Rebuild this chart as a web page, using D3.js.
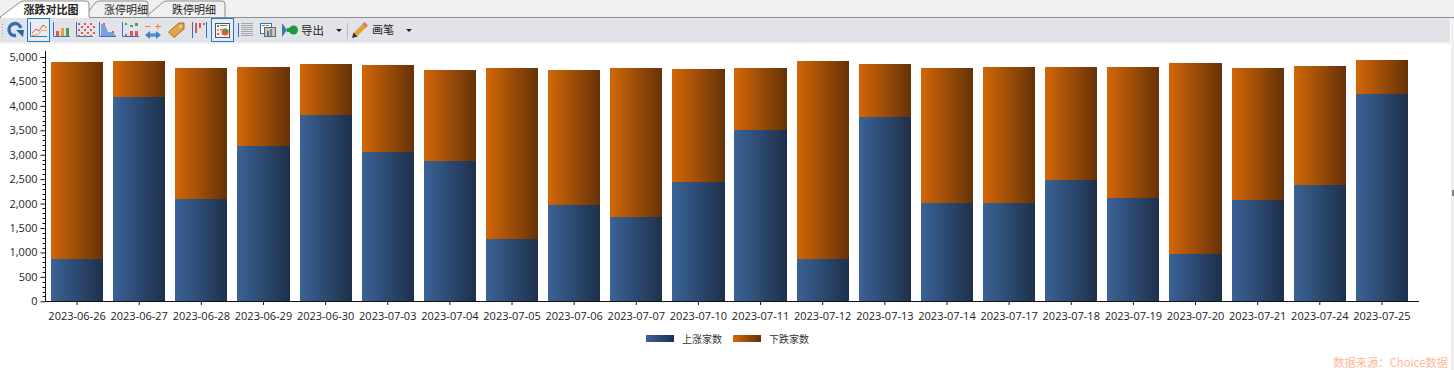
<!DOCTYPE html>
<html>
<head>
<meta charset="utf-8">
<script src="https://cdn.jsdelivr.net/npm/d3@7"></script>
<style>
html, body { margin: 0; padding: 0; background: #fff; overflow: hidden; }
svg { display: block; }
text { font-family: "Noto Sans CJK SC", "Noto Sans", sans-serif; }
.tick text { font-family: "Open Sans", "Noto Sans", sans-serif; }
</style>
</head>
<body>
<div id="chart"></div>
<script>

// === Data === //

var dates = ['2023-06-26','2023-06-27','2023-06-28','2023-06-29','2023-06-30','2023-07-03','2023-07-04','2023-07-05','2023-07-06','2023-07-07','2023-07-10','2023-07-11','2023-07-12','2023-07-13','2023-07-14','2023-07-17','2023-07-18','2023-07-19','2023-07-20','2023-07-21','2023-07-24','2023-07-25'];
var upCounts = [866,4180,2094,3180,3813,3057,2872,1275,1971,1726,2442,3506,866,3772,2012,2012,2483,2114,968,2073,2380,4243];
var totals = [4900,4920,4776,4796,4858,4837,4735,4776,4735,4776,4755,4776,4920,4858,4776,4796,4796,4796,4878,4776,4817,4939];
var downCounts = totals.map(function(d, i) { return d - upCounts[i]; });
var seriesNames = ['上涨家数', '下跌家数'];
var tabNames = ['涨跌对比图', '涨停明细', '跌停明细'];
var yTicks = d3.range(0, 5001, 500);


// === Set up canvas === //

var width = 1454, height = 370;
var svg = d3.select('#chart').append('svg').attr('width', width).attr('height', height);

function makeGradient(id, from, to) {
	var g = svg.append('defs').append('linearGradient').attr('id', id);
	g.append('stop').attr('offset', '0%').attr('stop-color', from);
	g.append('stop').attr('offset', '100%').attr('stop-color', to);
}
makeGradient('blue', '#3a6396', '#1e304b');
makeGradient('orange', '#d36707', '#653208');


// === Window chrome === //

svg.append('rect').attr('width', width).attr('height', height).attr('fill', '#fff');
svg.append('rect').attr('width', width).attr('height', 18).attr('fill', '#f0f0f0');
svg.append('rect').attr('x', 1451).attr('width', 3).attr('height', height).attr('fill', '#f0f0f0');
svg.append('rect').attr('y', 17).attr('width', width).attr('height', 1).attr('fill', '#8b8f8f');
svg.append('rect').attr('y', 18).attr('width', 1450).attr('height', 24).attr('fill', '#e1e3e8');
svg.append('rect').attr('y', 42).attr('width', 1451).attr('height', 2).attr('fill', '#f0f0f0');
svg.append('rect').attr('x', 1452).attr('y', 190).attr('width', 2).attr('height', 6).attr('fill', '#80808c');


// --- Tabs --- //

var tabPaths = [
	'M0 17L19 3Q21 1 24 1H86Q89 1 89 4V18',
	'M89 11L95 3Q97 1 100 1H145Q148 1 148 4V17',
	'M148 15L162 3Q164 1 167 1H222Q225 1 225 4V17'
];
var tabCentres = [51, 126, 194];

[2, 1, 0].forEach(function(i) {
	svg.append('path').attr('d', tabPaths[i])
		.attr('fill', i === 0 ? '#fff' : '#f0f0f0')
		.attr('stroke', '#8b8f8f');
	svg.append('text').attr('x', tabCentres[i]).attr('y', 13.5)
		.attr('text-anchor', 'middle').attr('font-size', 11)
		.attr('font-weight', i === 0 ? 700 : 400)
		.attr('fill', '#222').text(tabNames[i]);
});
svg.append('rect').attr('x', 1).attr('y', 17).attr('width', 88).attr('height', 1).attr('fill', '#fff');


// --- Toolbar icons --- //

var bar = svg.append('g').attr('class', 'toolbar');

function box(x, w) {
	bar.append('rect').attr('x', x + 0.5).attr('y', 18.5).attr('width', w).attr('height', 23)
		.attr('fill', '#e9edf3').attr('stroke', '#1c7cc4');
}
function rect(x, y, w, h, c) {
	bar.append('rect').attr('x', x).attr('y', y).attr('width', w).attr('height', h).attr('fill', c);
}
function line(d, c, sw) {
	bar.append('path').attr('d', d).attr('fill', 'none').attr('stroke', c).attr('stroke-width', sw || 1);
}
function shape(d, c, s) {
	bar.append('path').attr('d', d).attr('fill', c).attr('stroke', s || 'none');
}
function axesIcon(x) {
	line('M' + (x + .5) + ' 22V36.5H' + (x + 17), '#2b78c2');
}

box(27, 22);
box(211, 22);

// grip
d3.range(5).forEach(function(i) { rect(2, 24 + i * 3, 1, 1, '#9a9ea6'); });

// refresh
line('M20.8 28A6 6 0 1 0 16 35.5', '#3570b4', 3.5);
shape('M16 30h8l-1 7z', '#2b63a8');

// line chart
axesIcon(30);
line('M32 33l4-4l3 2l4-6l4 3', '#d9534f');
line('M32 35.5l6-1l4-4h5', '#e6a23c');

// bars
axesIcon(53);
rect(56, 31, 3, 5, '#e2574c'); rect(61, 28, 3, 8, '#e8a33d'); rect(66, 28, 3, 8, '#3ea34a');

// scatter
axesIcon(76);
d3.range(6).forEach(function(i) {
	d3.range(5).forEach(function(j) {
		if ((i + j) % 2 === 0) rect(78 + i * 3, 23 + j * 3, 2, 2, '#e2574c');
	});
});

// area
axesIcon(99);
shape('M101 36V24l4 1l3 7h5l3 4z', '#7f9fe3');
rect(103, 23, 2, 2, '#e2574c'); rect(112, 31, 2, 2, '#e2574c');

// up/down bars
axesIcon(122);
rect(125, 23, 2, 2, '#3ea34a'); rect(130, 25, 3, 2, '#3ea34a'); rect(135, 23, 3, 3, '#3ea34a');
rect(125, 34, 2, 2, '#e2574c'); rect(130, 31, 3, 5, '#e2574c'); rect(135, 31, 3, 5, '#e2574c');

// zoom arrows
line('M148 35H158', '#5b93cf', 3.5);
shape('M145 35l5-4v8zM161 35l-5-4v8z', '#3d85c6');
line('M145 26.5h5M155 26.5h6M158 23.5v6', '#e08a2c');

// tag
shape('M168.5 32L179 23H184V29L174 37.5Z', '#e0a64a', '#a86e1d');
bar.append('circle').attr('cx', 180.5).attr('cy', 26.5).attr('r', 1).attr('fill', '#fff');

// ruler
line('M192.5 22V38M206.5 22V38', '#2b78c2');
rect(195, 23, 2, 10, '#e2574c'); rect(199, 23, 2, 5, '#e2574c'); rect(203, 23, 2, 2, '#e2574c');

// legend icon
bar.append('rect').attr('x', 215.5).attr('y', 23.5).attr('width', 14).attr('height', 14).attr('fill', '#f7f7f7').attr('stroke', '#555');
rect(217, 25, 2, 2, '#3ea34a'); rect(217, 29, 2, 2, '#e8a33d'); rect(217, 33, 2, 2, '#e2574c');
rect(220, 25, 7, 1, '#777'); rect(220, 29, 2, 1, '#777');
bar.append('circle').attr('cx', 225).attr('cy', 32).attr('r', 3.5).attr('fill', '#d9622b');
shape('M225 32V28.5A3.5 3.5 0 0 1 228.5 32Z', '#3ea34a');

// grid lines
d3.range(7).forEach(function(i) {
	line('M241 ' + (23.5 + i * 2) + 'H253', '#a2a6ad');
});
line('M238.5 23V37', '#2b78c2');

// export data icon
bar.append('rect').attr('x', 260.5).attr('y', 23.5).attr('width', 11).attr('height', 10).attr('fill', '#fff').attr('stroke', '#2b78c2');
rect(262, 25, 3, 1, '#3ea34a'); rect(266, 25, 3, 1, '#e2574c');
bar.append('rect').attr('x', 264.5).attr('y', 27.5).attr('width', 11).attr('height', 9).attr('fill', '#c4c4c4').attr('stroke', '#666');
rect(267, 31, 2, 5, '#777'); rect(270, 29, 2, 7, '#888');

// export arrow
shape('M282 23l5 7l-5 7z', '#3a78b5');
rect(287, 28, 4, 4, '#1e9a3a');
bar.append('circle').attr('cx', 293.5).attr('cy', 30).attr('r', 4.5).attr('fill', '#1e9a3a');
bar.append('text').attr('x', 301).attr('y', 34.5).attr('font-size', 11.5).attr('fill', '#222').text('导出');
shape('M336 29h6l-3 3z', '#222');
rect(347, 23, 1, 16, '#b8bbc2');

// pen
line('M355.5 34.5L365 25', '#e0a23c', 5);
line('M363.5 23l3.5 3.5', '#e0766a', 3);
shape('M352 38l1.5-5.5l4 4z', '#3a3020');
bar.append('text').attr('x', 372).attr('y', 34).attr('font-size', 11).attr('fill', '#222').text('画笔');
shape('M406 29h6l-3 3z', '#222');


// === Scales === //

var x = d3.scaleBand().domain(dates).range([46, 1413]).paddingInner(10 / 62.14).paddingOuter(5 / 62.14);
var y = d3.scaleLinear().domain([0, 5000]).range([301.3, 57]);


// === Stacked bars === //

var rows = dates.map(function(d, i) { return { date: d, up: upCounts[i], down: downCounts[i] }; });
var stacked = d3.stack().keys(['up', 'down'])(rows);

svg.selectAll('.series')
	.data(stacked)
	.enter().append('g')
	.attr('class', 'series')
	.attr('fill', function(d, i) { return i === 0 ? 'url(#blue)' : 'url(#orange)'; })
	.selectAll('rect')
	.data(function(d) { return d; })
	.enter().append('rect')
	.attr('shape-rendering', 'crispEdges')
	.attr('x', function(d) { return x(d.data.date); })
	.attr('width', x.bandwidth())
	.attr('y', function(d) { return y(d[1]); })
	.attr('height', function(d) { return y(d[0]) - y(d[1]); });


// === Axes === //

var xAxis = d3.axisBottom(x).tickSize(4).tickPadding(7);
var gx = svg.append('g').attr('transform', 'translate(0,301)').call(xAxis);
gx.select('.domain').remove();
gx.append('path').attr('d', 'M45 0.5H1419').attr('stroke', '#111');
gx.selectAll('.tick line').attr('stroke', '#111');
gx.selectAll('.tick text').attr('font-size', 11).attr('fill', '#222').attr('font-family', null);

var yAxis = d3.axisLeft(y).tickValues(yTicks).tickFormat(d3.format(',')).tickSize(5).tickPadding(3);
var gy = svg.append('g').attr('transform', 'translate(45.5,0)').call(yAxis);
gy.select('.domain').remove();
gy.append('path').attr('d', 'M0 51V301').attr('stroke', '#111');
gy.selectAll('.tick line').attr('stroke', '#111');
gy.selectAll('.tick text').attr('font-size', 11).attr('fill', '#222').attr('font-family', null);

// minor ticks
gy.selectAll('.minor')
	.data(d3.range(0, 5001, 100).filter(function(d) { return d % 500 !== 0; }))
	.enter().append('line')
	.attr('class', 'minor')
	.attr('x2', -3)
	.attr('y1', function(d) { return Math.round(y(d)) + 0.5; })
	.attr('y2', function(d) { return Math.round(y(d)) + 0.5; })
	.attr('stroke', '#111');


// === Legend === //

var legendX = [646, 733];
seriesNames.forEach(function(name, i) {
	svg.append('rect').attr('x', legendX[i]).attr('y', 335).attr('width', 28).attr('height', 7)
		.attr('fill', i === 0 ? 'url(#blue)' : 'url(#orange)');
	svg.append('text').attr('x', legendX[i] + 36).attr('y', 343)
		.attr('font-size', 10).attr('fill', '#333').text(name);
});


// === Source note === //

svg.append('text').attr('x', 1448).attr('y', 367).attr('text-anchor', 'end')
	.attr('font-size', 11.3).attr('fill', '#ffb899').text('数据来源：Choice数据');

</script>
</body>
</html>
